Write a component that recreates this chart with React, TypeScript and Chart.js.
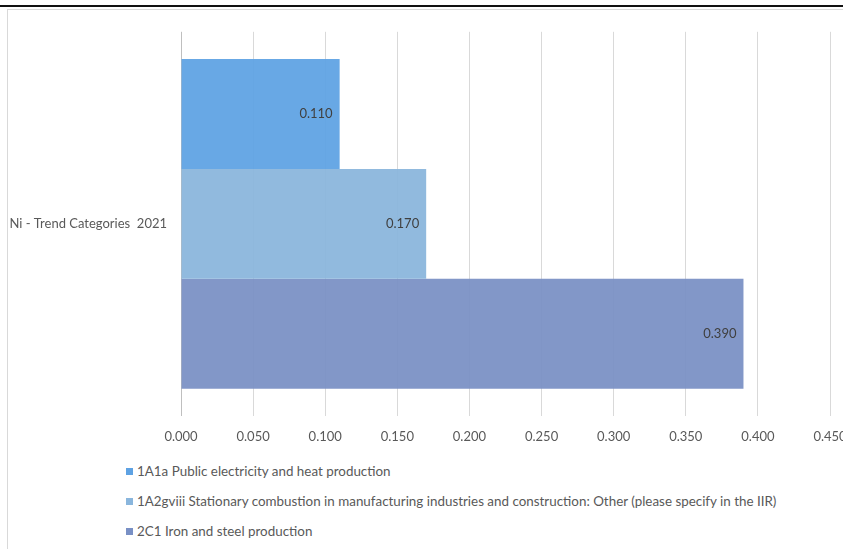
import React, { useEffect, useRef } from "react";
import { Chart, registerables } from "chart.js";

Chart.register(...registerables);

const categories = ["Ni - Trend Categories  2021"];
const seriesNames = [
  "1A1a Public electricity and heat production",
  "1A2gviii Stationary combustion in manufacturing industries and construction: Other (please specify in the IIR)",
  "2C1 Iron and steel production",
];
const seriesValues = [[0.11], [0.17], [0.39]];
const seriesColors = ["rgba(92,161,227,0.93)", "rgba(137,181,220,0.93)", "rgba(120,143,196,0.93)"];
const legendColors = ["#5ea2e3", "#8ab6dd", "#7990c5"];
const xTicks = { min: 0, max: 0.45, step: 0.05 };

const FONT = "Lato, 'Noto Sans', sans-serif";

const dataLabelPlugin = {
  id: "dataLabels",
  afterDatasetsDraw(chart: any) {
    const ctx = chart.ctx;
    ctx.save();
    ctx.font = `13px ${FONT}`;
    ctx.fillStyle = "#404040";
    ctx.textAlign = "right";
    ctx.textBaseline = "middle";
    chart.data.datasets.forEach((ds: any, i: number) => {
      const meta = chart.getDatasetMeta(i);
      meta.data.forEach((el: any, j: number) => {
        const v = ds.data[j];
        ctx.fillText(Number(v).toFixed(3), el.x - 7, el.y);
      });
    });
    ctx.restore();
  },
};

export default function App() {
  const ref = useRef<HTMLCanvasElement>(null);
  useEffect(() => {
    document.body.style.margin = "0";
    const chart = new Chart(ref.current!, {
      type: "bar",
      data: {
        labels: categories,
        datasets: seriesNames.map((name, i) => ({
          label: name,
          data: seriesValues[i],
          backgroundColor: seriesColors[i],
          borderWidth: 0,
          categoryPercentage: 0.858,
          barPercentage: 1,
        })),
      },
      options: {
        indexAxis: "y",
        animation: false,
        responsive: false,
        maintainAspectRatio: false,
        layout: { padding: { top: 18, right: 38, left: 0, bottom: 0 } },
        plugins: { legend: { display: false }, tooltip: { enabled: false } },
        scales: {
          x: {
            min: xTicks.min,
            max: xTicks.max,
            border: { display: false },
            grid: {
              color: (c: any) => (c.tick && c.tick.value === 0 ? "#bfbfbf" : "#d9d9d9"),
              drawTicks: false,
              lineWidth: 1,
            },
            ticks: {
              stepSize: xTicks.step,
              padding: 13,
              color: "#595959",
              font: { family: FONT, size: 13 },
              callback: (v: any) => Number(v).toFixed(3),
            },
            afterFit: (s: any) => {
              s.height = 34;
            },
          },
          y: {
            border: { display: false },
            grid: { display: false, drawTicks: false },
            ticks: {
              padding: 14,
              color: "#595959",
              font: { family: FONT, size: 13 },
            },
            afterFit: (s: any) => {
              s.width = 173;
            },
          },
        },
      },
      plugins: [dataLabelPlugin],
    });
    return () => chart.destroy();
  }, []);

  return (
    <div style={{ position: "relative", width: 843, height: 549, overflow: "hidden", background: "#fff" }}>
      <div style={{ position: "absolute", left: 0, top: 5, width: 843, height: 2, background: "#111" }} />
      <div
        style={{
          position: "absolute",
          left: 7,
          top: 9,
          width: 900,
          height: 600,
          borderLeft: "1px solid #d9d9d9",
          borderTop: "1px solid #d9d9d9",
        }}
      />
      <div style={{ position: "absolute", left: 8, top: 10, width: 860, height: 440 }}>
        <canvas ref={ref} width={860} height={440} style={{ width: 860, height: 440 }} />
      </div>
      {seriesNames.map((name, i) => (
        <div
          key={name}
          style={{
            position: "absolute",
            left: 126,
            top: 462 + i * 30,
            height: 18,
            display: "flex",
            alignItems: "center",
            whiteSpace: "nowrap",
            fontFamily: FONT,
            fontSize: 13.4,
            color: "#595959",
          }}
        >
          <span style={{ display: "inline-block", width: 7, height: 7, background: legendColors[i], marginRight: 4 }} />
          <span>{name}</span>
        </div>
      ))}
    </div>
  );
}
